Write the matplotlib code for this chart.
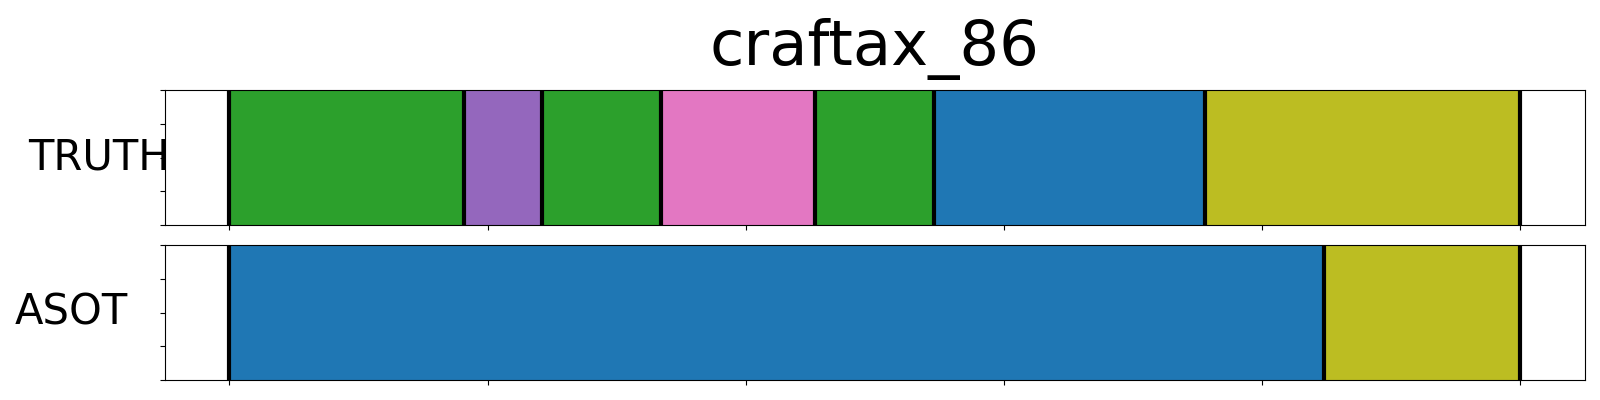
import matplotlib
matplotlib.use("Agg")
import matplotlib.pyplot as plt

title = "craftax_86"
row_labels = ["TRUTH", "ASOT"]
total_len = 500

truth_bounds = [0, 91, 121, 167, 227, 273, 378, 500]
truth_colors = ["#2ca02c", "#9467bd", "#2ca02c", "#e377c2", "#2ca02c", "#1f77b4", "#bcbd22"]

asot_bounds = [0, 424, 500]
asot_colors = ["#1f77b4", "#bcbd22"]

xticks = [0, 100, 200, 300, 400, 500]
yticks = [0, 0.25, 0.5, 0.75, 1.0]

fig = plt.figure(figsize=(16, 4), dpi=100)
ax_top = fig.add_axes([0.103, 0.4375, 0.8875, 0.3375])
ax_bot = fig.add_axes([0.103, 0.05, 0.8875, 0.3375])

rows = [(ax_top, truth_bounds, truth_colors), (ax_bot, asot_bounds, asot_colors)]
label_x = [-0.0462, -0.0657]

for (ax, bounds, colors), lab, lx in zip(rows, row_labels, label_x):
    for i, c in enumerate(colors):
        ax.axvspan(bounds[i], bounds[i + 1], ymin=0, ymax=1, color=c, lw=0)
    for b in bounds:
        ax.axvline(b, color="black", lw=3)
    ax.set_xlim(-0.05 * total_len, 1.05 * total_len)
    ax.set_ylim(0, 1)
    ax.set_xticks(xticks)
    ax.set_xticklabels([])
    ax.set_yticks(yticks)
    ax.set_yticklabels([])
    ax.set_ylabel(lab, rotation=0, fontsize=30, ha="center", va="center")
    ax.yaxis.set_label_coords(lx, 0.5)

ax_top.set_title(title, fontsize=45, pad=18)

fig.savefig("out.png", dpi=100)
